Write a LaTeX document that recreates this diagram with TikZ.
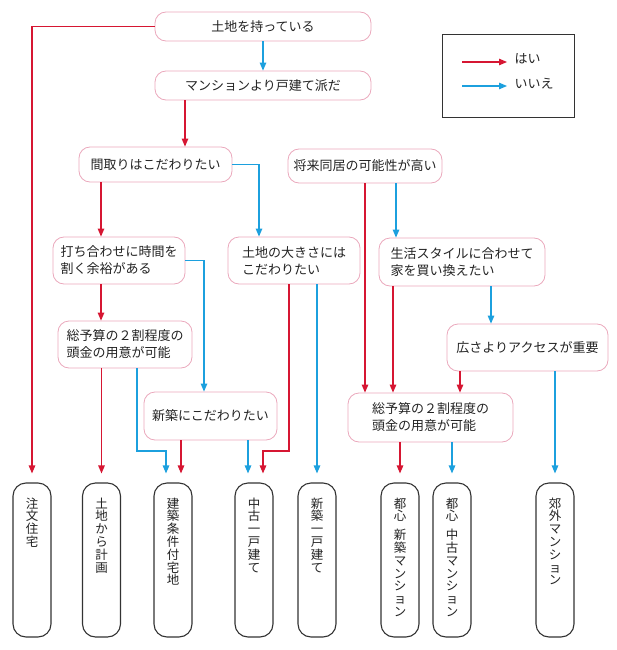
\documentclass[tikz,border=0pt]{standalone}
\usepackage{fontspec}
\setmainfont{Noto Sans CJK JP}
\usepackage{tikz}
\usetikzlibrary{arrows.meta,positioning}
\definecolor{yescol}{RGB}{214,22,50}
\definecolor{nocol}{RGB}{28,160,222}
\definecolor{pinkline}{RGB}{234,168,188}
\definecolor{txt}{RGB}{35,35,35}

\begin{document}
\begin{tikzpicture}[x=1pt, y=-1pt, font=\fontsize{13}{17}\selectfont,
  qbox/.style={draw=pinkline, line width=0.8pt, rounded corners=11pt, text=txt, inner sep=0pt, align=left},
  endbox/.style={draw=black!80, line width=1.1pt, rounded corners=13pt, minimum width=38pt, minimum height=154pt},
  vtext/.style={align=center, text=txt, font=\fontsize{12.5}{12.8}\selectfont, inner sep=0pt},
  yes/.style={draw=yescol, line width=1.2pt, -{Triangle[length=8pt,width=6.5pt]}},
  no/.style={draw=nocol, line width=1.2pt, -{Triangle[length=8pt,width=6.5pt]}},
  toend/.style={shorten >=9pt}]
  \useasboundingbox (0,0) rectangle (616,650);

  % questions
  \node[qbox, minimum width=216, minimum height=29] (n1) at (263,26.5) {土地を持っている};
  \node[qbox, minimum width=216, minimum height=29] (n2) at (263,85.5) {マンションより戸建て派だ};
  \node[qbox, minimum width=153, minimum height=35] (n3) at (155.5,164.5) {間取りはこだわりたい};
  \node[qbox, minimum width=154, minimum height=34] (n6) at (365,166) {将来同居の可能性が高い};
  \node[qbox, minimum width=132, minimum height=47] (n4) at (119,260.5) {打ち合わせに時間を\\割く余裕がある};
  \node[qbox, minimum width=132, minimum height=47] (n5) at (294,260.5) {土地の大きさには\\こだわりたい};
  \node[qbox, minimum width=166, minimum height=48] (n7) at (462,262) {生活スタイルに合わせて\\家を買い換えたい};
  \node[qbox, minimum width=134, minimum height=47] (n10) at (125,344.5) {総予算の２割程度の\\頭金の用意が可能};
  \node[qbox, minimum width=161, minimum height=47] (n11) at (527.5,347.5) {広さよりアクセスが重要};
  \node[qbox, minimum width=133, minimum height=48] (n8) at (210.5,416) {新築にこだわりたい};
  \node[qbox, minimum width=165, minimum height=49] (n9) at (430.5,417.5) {総予算の２割程度の\\頭金の用意が可能};

  % answers
  \foreach \nm/\xx/\txt in {e1/32/{注\\文\\住\\宅}, e2/101.5/{土\\地\\か\\ら\\計\\画},
      e3/173/{建\\築\\条\\件\\付\\宅\\地}, e4/254/{中\\古\\一\\戸\\建\\て},
      e5/317/{新\\築\\一\\戸\\建\\て}, e6/400/{都\\心\\[6pt]新\\築\\マ\\ン\\シ\\ョ\\ン},
      e7/452/{都\\心\\[6pt]中\\古\\マ\\ン\\シ\\ョ\\ン}, e8/555/{郊\\外\\マ\\ン\\シ\\ョ\\ン}} {
    \node[endbox] (\nm) at (\xx,560) {};
    \node[vtext, below=15pt of \nm.north] (\nm-txt) {\txt};
  }

  % legend
  \node[draw=black!80, line width=0.9pt, minimum width=132, minimum height=83] (legend) at (508,75.5) {};
  \node[anchor=west, text=txt] (lyes) at (511,59) {はい};
  \node[anchor=west, text=txt] (lno) at (511,84) {いいえ};
  \coordinate (lyesa) at (462,62);
  \coordinate (lyesb) at (507,62);
  \coordinate (lnoa) at (462,86);
  \coordinate (lnob) at (507,86);
  \draw[yes] (lyesa) -- (lyesb);
  \draw[no] (lnoa) -- (lnob);

  % connectors
  \draw[no] (n1.south) -- (n2.north);
  \draw[yes, toend] (n1.west) -| (e1.north);
  \draw[yes] (185,0 |- n2.south) -- (185,0 |- n3.north);
  \draw[no] (n3.east) -| (259,0 |- n5.north);
  \draw[yes] (101,0 |- n3.south) -- (101,0 |- n4.north);
  \draw[no] (n4.east) -| (204,0 |- n8.north);
  \draw[yes] (101,0 |- n4.south) -- (101,0 |- n10.north);
  \draw[yes, toend] (e2.north |- n10.south) -- (e2.north);
  \draw[no, toend] (137,0 |- n10.south) -- (137,451) -| ([xshift=-7pt]e3.north);
  \draw[yes, toend] (181,0 |- n8.south) -- ([xshift=8pt]e3.north);
  \draw[no, toend] (248,0 |- n8.south) -- ([xshift=-6pt]e4.north);
  \draw[yes, toend] (289,0 |- n5.south) -- (289,451) -| ([xshift=9pt]e4.north);
  \draw[no, toend] (e5.north |- n5.south) -- (e5.north);
  \draw[yes] (n6.south) -- (n6.south |- n9.north);
  \draw[no] (396,0 |- n6.south) -- (396,0 |- n7.north);
  \draw[yes] (393,0 |- n7.south) -- (393,0 |- n9.north);
  \draw[no] (491,0 |- n7.south) -- (491,0 |- n11.north);
  \draw[yes] (460,0 |- n11.south) -- (460,0 |- n9.north);
  \draw[no, toend] (e8.north |- n11.south) -- (e8.north);
  \draw[yes, toend] (e6.north |- n9.south) -- (e6.north);
  \draw[no, toend] (e7.north |- n9.south) -- (e7.north);
\end{tikzpicture}
\end{document}
